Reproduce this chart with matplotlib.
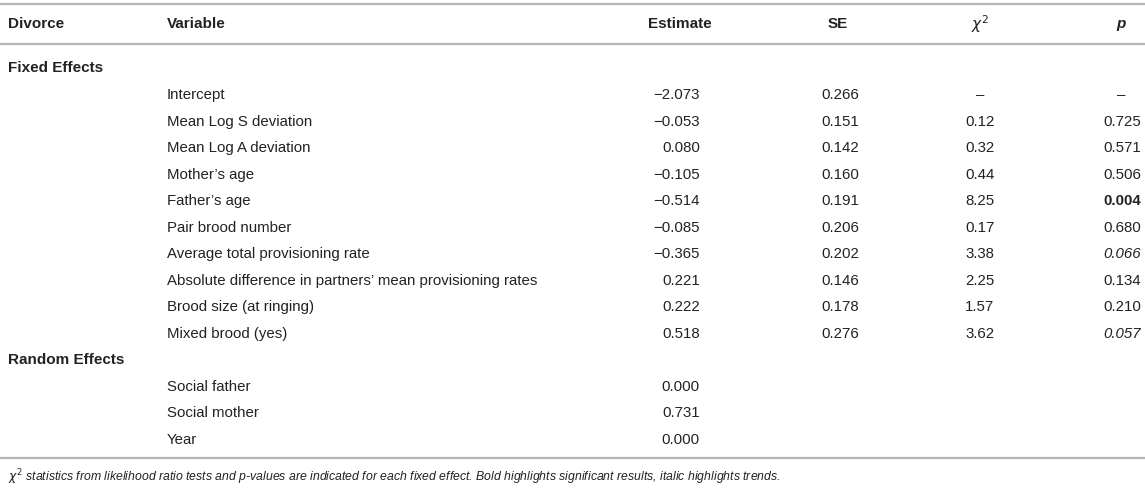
import matplotlib
matplotlib.use("Agg")
import matplotlib.pyplot as plt

plt.rcParams['font.family'] = ['Liberation Sans', 'DejaVu Sans']

# table content
headers = ["Divorce", "Variable", "Estimate", "SE", r"$\chi^2$", "p"]
fixed_vars = ["Intercept", "Mean Log S deviation", "Mean Log A deviation",
              "Mother\u2019s age", "Father\u2019s age", "Pair brood number",
              "Average total provisioning rate",
              "Absolute difference in partners\u2019 mean provisioning rates",
              "Brood size (at ringing)", "Mixed brood (yes)"]
fixed_est = ["\u22122.073", "\u22120.053", "0.080", "\u22120.105", "\u22120.514",
             "\u22120.085", "\u22120.365", "0.221", "0.222", "0.518"]
fixed_se = ["0.266", "0.151", "0.142", "0.160", "0.191", "0.206", "0.202",
            "0.146", "0.178", "0.276"]
fixed_chi = ["\u2013", "0.12", "0.32", "0.44", "8.25", "0.17", "3.38", "2.25",
             "1.57", "3.62"]
fixed_p = ["\u2013", "0.725", "0.571", "0.506", "0.004", "0.680", "0.066",
           "0.134", "0.210", "0.057"]
p_style = ["normal", "normal", "normal", "normal", "bold", "normal", "italic",
           "normal", "normal", "italic"]
random_vars = ["Social father", "Social mother", "Year"]
random_est = ["0.000", "0.731", "0.000"]
footnote = (r"$\chi^2$ statistics from likelihood ratio tests and p-values are "
            "indicated for each fixed effect. Bold highlights significant results, "
            "italic highlights trends.")

W, H = 1145, 490
fig = plt.figure(figsize=(W / 100, H / 100), dpi=100)
ax = fig.add_axes([0, 0, 1, 1])
ax.set_xlim(0, W)
ax.set_ylim(H, 0)
ax.axis('off')

fs = 10.8
fs_head = 11
col = '#222222'
line_c = '#b4b4b4'

# column anchors
x_div, x_var = 8, 167
x_est, x_se, x_chi, x_p = 700, 840, 980, 1141

for y in [4, 44, 458]:
    ax.plot([0, W], [y, y], color=line_c, lw=1.6, solid_capstyle='butt')

yh = 24
ax.text(x_div, yh, headers[0], ha='left', va='center', fontsize=fs_head, fontweight='bold', color=col)
ax.text(x_var, yh, headers[1], ha='left', va='center', fontsize=fs_head, fontweight='bold', color=col)
ax.text(x_est + 12, yh, headers[2], ha='right', va='center', fontsize=fs_head, fontweight='bold', color=col)
ax.text(x_se - 2, yh, headers[3], ha='center', va='center', fontsize=fs_head, fontweight='bold', color=col)
ax.text(x_chi, yh, headers[4], ha='center', va='center', fontsize=fs_head, color=col)
ax.text(x_p - 20, yh, headers[5], ha='center', va='center', fontsize=fs_head, fontweight='bold',
        fontstyle='italic', color=col)

ax.text(x_div, 68, "Fixed Effects", ha='left', va='center', fontsize=fs_head, fontweight='bold', color=col)

step = 26.5
y0 = 95
for i, v in enumerate(fixed_vars):
    y = y0 + i * step
    ax.text(x_var, y, v, ha='left', va='center', fontsize=fs, color=col)
    ax.text(x_est, y, fixed_est[i], ha='right', va='center', fontsize=fs, color=col)
    ax.text(x_se, y, fixed_se[i], ha='center', va='center', fontsize=fs, color=col)
    ax.text(x_chi, y, fixed_chi[i], ha='center', va='center', fontsize=fs, color=col)
    if fixed_p[i] == "\u2013":
        ax.text(x_p - 20, y, fixed_p[i], ha='center', va='center', fontsize=fs, color=col)
    else:
        ax.text(x_p, y, fixed_p[i], ha='right', va='center', fontsize=fs, color=col,
                fontweight='bold' if p_style[i] == 'bold' else 'normal',
                fontstyle='italic' if p_style[i] == 'italic' else 'normal')

y_rand = y0 + len(fixed_vars) * step
ax.text(x_div, y_rand, "Random Effects", ha='left', va='center', fontsize=fs_head, fontweight='bold', color=col)
for i, v in enumerate(random_vars):
    y = y_rand + (i + 1) * step
    ax.text(x_var, y, v, ha='left', va='center', fontsize=fs, color=col)
    ax.text(x_est, y, random_est[i], ha='right', va='center', fontsize=fs, color=col)

ax.text(x_div, 477, footnote, ha='left', va='center', fontsize=8.8, fontstyle='italic', color=col)

fig.savefig("out.png", dpi=100)
